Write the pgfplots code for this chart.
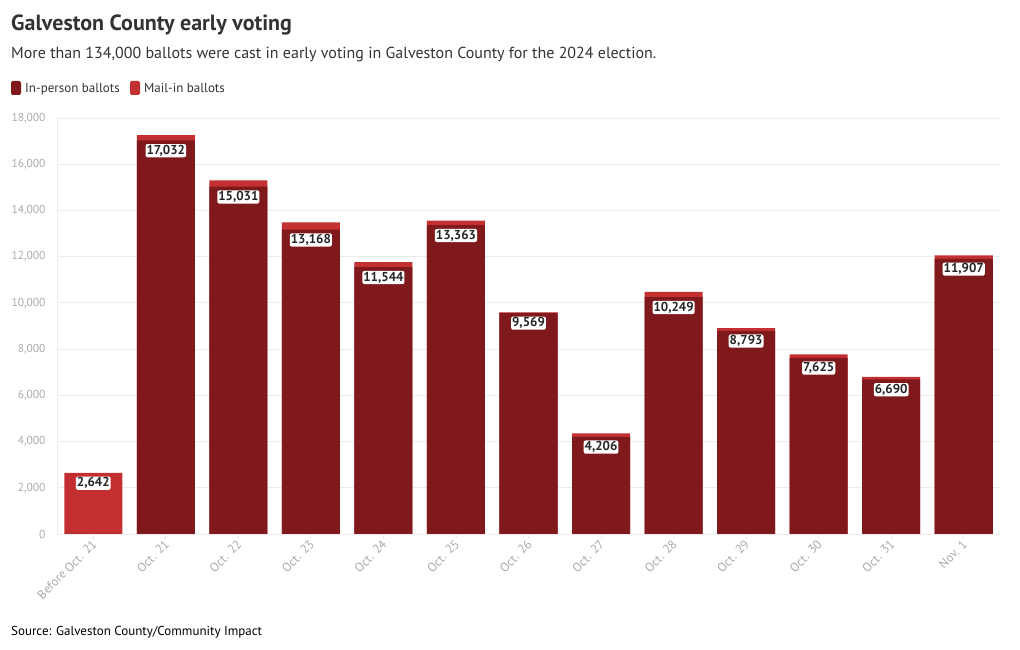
\documentclass[border=0pt]{standalone}
\usepackage{pgfplots}
\pgfplotsset{compat=1.18}
\usepackage{fontspec}
\setmainfont{PT Sans}
\definecolor{inperson}{RGB}{127,25,27}
\definecolor{mailin}{RGB}{196,48,50}
\definecolor{gridc}{RGB}{236,236,236}
\definecolor{tickc}{RGB}{170,170,170}
\definecolor{titlec}{RGB}{51,51,51}
\begin{document}
\begin{tikzpicture}[x=1pt,y=1pt]
\useasboundingbox (0,0) rectangle (1020,650);
\node[anchor=base west, inner sep=0pt, text=titlec] at (11,619) {\fontsize{22}{26}\selectfont\bfseries Galveston County early voting};
\node[anchor=base west, inner sep=0pt, text=titlec] at (11,591) {\fontsize{16}{19}\selectfont More than 134,000 ballots were cast in early voting in Galveston County for the 2024 election.};
\fill[inperson, rounded corners=2pt] (11,555) rectangle (21,569);
\node[anchor=base west, inner sep=0pt, text=titlec] at (25,557) {\fontsize{13}{15}\selectfont In-person ballots};
\fill[mailin, rounded corners=2pt] (130,555) rectangle (140,569);
\node[anchor=base west, inner sep=0pt, text=titlec] at (144,557) {\fontsize{13}{15}\selectfont Mail-in ballots};
\node[anchor=base west, inner sep=0pt, text=black] at (11,14) {\fontsize{13}{15}\selectfont Source: Galveston County/Community Impact};
\begin{axis}[
  at={(57pt,116pt)}, anchor=south west,
  scale only axis, width=943pt, height=416pt,
  xmin=-0.5, xmax=12.5, ymin=0, ymax=18000,
  ybar, bar width=0.8,
  /pgf/number format/assume math mode=true,
  /pgf/number format/1000 sep={,},
  scaled y ticks=false,
  ytick={0,2000,...,18000},
  xtick={0,...,12},
  xticklabels={Before Oct. 21,Oct. 21,Oct. 22,Oct. 23,Oct. 24,Oct. 25,Oct. 26,Oct. 27,Oct. 28,Oct. 29,Oct. 30,Oct. 31,Nov. 1},
  xticklabel style={rotate=45, anchor=east, text=tickc, font=\fontsize{12.5}{14}\selectfont, yshift=-3pt, xshift=2pt},
  yticklabel style={text=tickc, font=\fontsize{11.5}{14}\selectfont, xshift=-3pt},
  ymajorgrids, grid style={draw=gridc, line width=0.8pt},
  axis x line*=bottom, axis y line*=left,
  axis line style={draw=gridc, line width=0.8pt, -},
  xtick style={draw=gridc, line width=0.8pt},
  ytick style={draw=none},
  major tick length=5pt,
  tick align=outside,
  clip=false,
]
\addplot[fill=mailin, draw=none, bar shift=0pt] coordinates {
(0,2642) (1,17262) (2,15306) (3,13488) (4,11759) (5,13558) (6,9594) (7,4356) (8,10474) (9,8913) (10,7775) (11,6795) (12,12057)};
\addplot[fill=inperson, draw=none, bar shift=0pt] coordinates {
(0,0) (1,17032) (2,15031) (3,13168) (4,11544) (5,13363) (6,9569) (7,4206) (8,10249) (9,8793) (10,7625) (11,6690) (12,11907)};
\addplot[fill=none, draw=none, bar shift=0pt, point meta=y,
  nodes near coords,
  every node near coord/.append style={anchor=north, yshift=-3.5pt, fill=white, inner sep=1pt, rounded corners=2pt, text=black!85, font=\fontsize{13}{15}\selectfont\bfseries}] coordinates {
(0,2642) (1,17032) (2,15031) (3,13168) (4,11544) (5,13363) (6,9569) (7,4206) (8,10249) (9,8793) (10,7625) (11,6690) (12,11907)};
\end{axis}
\end{tikzpicture}
\end{document}
